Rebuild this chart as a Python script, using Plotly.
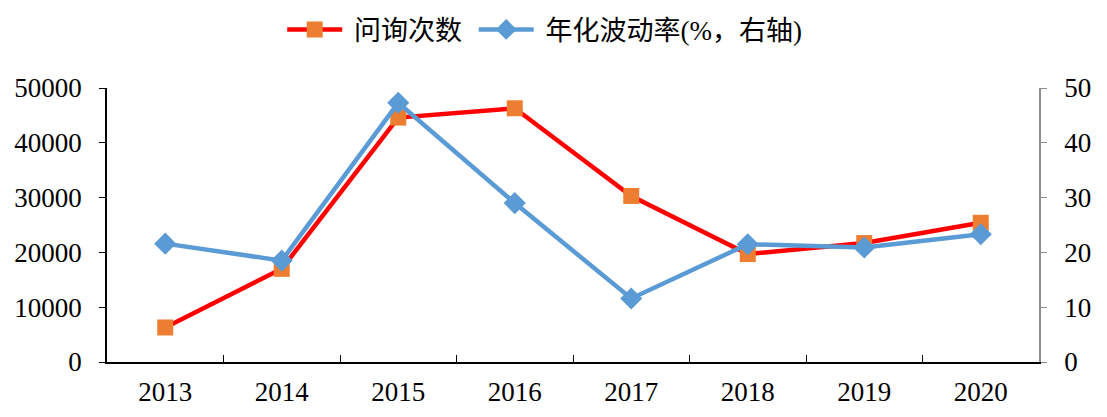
import plotly.graph_objects as go

years = ["2013", "2014", "2015", "2016", "2017", "2018", "2019", "2020"]
inquiries = [6300, 17000, 44600, 46300, 30300, 19700, 21700, 25400]
volatility = [21.6, 18.5, 47.3, 29.0, 11.6, 21.5, 20.9, 23.3]
left_ticks = [0, 10000, 20000, 30000, 40000, 50000]
left_labels = ["0", "10000", "20000", "30000", "40000", "50000"]
right_ticks = [0, 10, 20, 30, 40, 50]

font_family = "Liberation Serif, Times New Roman, Noto Sans CJK SC, serif"

fig = go.Figure()
fig.add_trace(go.Scatter(
    x=years, y=inquiries, name=" 问询次数 ", mode="lines+markers",
    line=dict(color="#FF0000", width=4.5),
    marker=dict(symbol="square", size=16, color="#ED7D31"),
    yaxis="y",
))
fig.add_trace(go.Scatter(
    x=years, y=volatility, name=" 年化波动率(%，右轴)", mode="lines+markers",
    line=dict(color="#5B9BD5", width=4.5),
    marker=dict(symbol="diamond", size=17, color="#5B9BD5"),
    yaxis="y2",
))

fig.update_layout(
    width=1099, height=409,
    margin=dict(l=99, r=68, t=80, b=55, autoexpand=False),
    paper_bgcolor="white", plot_bgcolor="white",
    font=dict(family=font_family, size=27, color="black"),
    showlegend=True,
    legend=dict(orientation="h", x=0.188, xanchor="left", y=1.212, yanchor="middle",
                font=dict(size=27), itemwidth=55, traceorder="normal"),
    xaxis=dict(
        type="category", range=[-0.5, 7.5], showgrid=False, automargin=False,
        showline=True, linecolor="black", linewidth=1.5,
        ticks="inside", tickson="boundaries", ticklen=7, tickcolor="black",
        tickfont=dict(size=27), zeroline=False, ticklabelstandoff=5,
    ),
    yaxis=dict(
        range=[0, 50000], tickvals=left_ticks, ticktext=left_labels,
        showgrid=False, zeroline=False, automargin=False,
        showline=True, linecolor="black", linewidth=1.5,
        ticks="outside", ticklen=6, tickcolor="black",
        tickfont=dict(size=27), ticklabelstandoff=12,
    ),
    yaxis2=dict(
        range=[0, 50], tickvals=right_ticks, overlaying="y", side="right",
        showgrid=False, zeroline=False, automargin=False,
        showline=True, linecolor="#8C8C8C", linewidth=1.5,
        ticks="outside", ticklen=6, tickcolor="#8C8C8C",
        tickfont=dict(size=27), ticklabelstandoff=12,
    ),
)

fig.write_html("out.html")
